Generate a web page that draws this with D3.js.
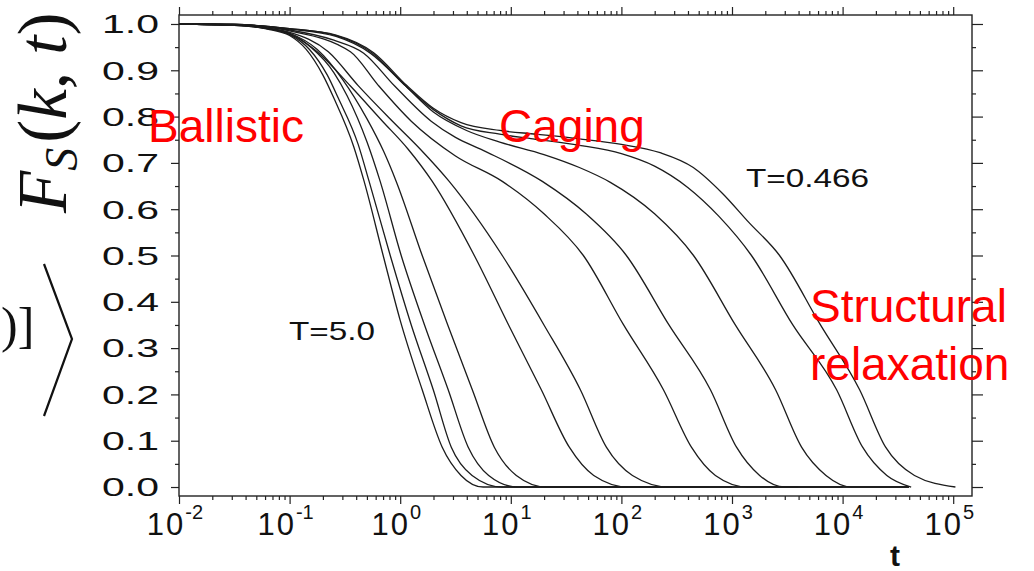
<!DOCTYPE html>
<html>
<head>
<meta charset="utf-8">
<script src="https://cdn.jsdelivr.net/npm/d3@7/dist/d3.min.js"></script>
<style>
  body { margin: 0; background: #fff; }
  svg { display: block; font-family: "Liberation Sans", Arial, sans-serif; }
</style>
</head>
<body>
<div id="chart"></div>
<script>
// each curve: [log10 t, Fs(k,t)], fastest (T=5.0) first
const curve1 = [[-2,1],[-1.5,0.997],[-1.2,0.989],[-1.0,0.975],[-0.85,0.945],[-0.7,0.89],[-0.6,0.84],[-0.42,0.735],[-0.326,0.66],[-0.154,0.5],[0.0,0.36],[0.199,0.21],[0.38,0.086],[0.55,0.025],[0.75,0],[2.6,0]];
const curve2 = [[-2,1],[-1.5,0.997],[-1.2,0.99],[-1.0,0.977],[-0.82,0.945],[-0.66,0.89],[-0.56,0.84],[-0.38,0.74],[-0.281,0.66],[-0.09,0.5],[0.1,0.35],[0.299,0.21],[0.462,0.086],[0.65,0.025],[0.92,0],[2.6,0]];
const curve3 = [[-2,1],[-1.5,0.998],[-1.2,0.99],[-1.0,0.978],[-0.8,0.948],[-0.6,0.895],[-0.48,0.845],[-0.3,0.745],[-0.181,0.66],[0.009,0.5],[0.22,0.35],[0.434,0.21],[0.615,0.086],[0.8,0.025],[1.06,0],[2.8,0]];
const curve4 = [[-2,1],[-1.5,0.998],[-1.2,0.991],[-1.0,0.98],[-0.75,0.945],[-0.52,0.88],[-0.3,0.795],[-0.15,0.725],[-0.036,0.66],[0.199,0.5],[0.43,0.35],[0.652,0.21],[0.851,0.086],[1.05,0.025],[1.32,0],[3.0,0]];
const curve5 = [[-2,1],[-1.5,0.998],[-1.2,0.99],[-1.0,0.98],[-0.75,0.94],[-0.45,0.866],[-0.16,0.79],[0.07,0.73],[0.29,0.66],[0.67,0.5],[0.98,0.35],[1.276,0.21],[1.529,0.086],[1.75,0.025],[2.06,0],[3.6,0]];
const curve6 = [[-2,1],[-1.5,0.998],[-1.2,0.991],[-1.0,0.982],[-0.65,0.94],[-0.38,0.867],[-0.07,0.79],[0.18,0.73],[0.443,0.66],[0.923,0.5],[1.3,0.35],[1.629,0.21],[1.864,0.086],[2.1,0.025],[2.43,0],[4.0,0]];
const curve7 = [[-2,1],[-1.5,0.999],[-1.2,0.993],[-1.0,0.985],[-0.45,0.94],[-0.2,0.868],[0.1,0.79],[0.5,0.715],[0.923,0.66],[1.3,0.59],[1.656,0.5],[2.02,0.35],[2.38,0.21],[2.633,0.086],[2.85,0.025],[3.14,0],[4.6,0]];
const curve8 = [[-2,1],[-1.5,0.999],[-1.0,0.987],[-0.6,0.965],[-0.33,0.937],[-0.05,0.866],[0.28,0.79],[0.5,0.755],[0.75,0.727],[1.285,0.66],[1.68,0.59],[2.045,0.5],[2.43,0.35],[2.805,0.21],[3.041,0.086],[3.25,0.025],[3.475,0],[4.6,0]];
const curve9 = [[-2,1],[-1.5,0.999],[-1.0,0.989],[-0.58,0.973],[-0.27,0.937],[0.05,0.866],[0.3,0.81],[0.6,0.77],[0.9,0.745],[1.3,0.718],[1.62,0.69],[1.9,0.658],[2.3,0.59],[2.652,0.5],[3.03,0.35],[3.394,0.21],[3.629,0.086],[3.85,0.025],[4.08,0],[4.6,0]];
const curve10 = [[-2,1],[-1.5,0.999],[-1.0,0.99],[-0.58,0.975],[-0.25,0.937],[0.05,0.866],[0.3,0.815],[0.55,0.78],[0.9,0.762],[1.2,0.752],[1.62,0.738],[2.0,0.72],[2.3,0.693],[2.6,0.647],[2.88,0.585],[3.176,0.5],[3.55,0.35],[3.946,0.21],[4.181,0.086],[4.4,0.025],[4.62,0]];
const curve11 = [[-2,1],[-1.5,0.999],[-1.0,0.99],[-0.58,0.976],[-0.24,0.938],[0.06,0.867],[0.3,0.818],[0.55,0.787],[0.9,0.77],[1.23,0.762],[1.62,0.752],[2.0,0.74],[2.35,0.722],[2.65,0.69],[2.91,0.635],[3.15,0.572],[3.43,0.5],[3.8,0.35],[4.154,0.21],[4.389,0.086],[4.65,0.025],[5.02,0]];

const curves = [curve1, curve2, curve3, curve4, curve5, curve6, curve7, curve8, curve9, curve10, curve11];

const yTicks = [0, 0.1, 0.2, 0.3, 0.4, 0.5, 0.6, 0.7, 0.8, 0.9, 1.0];
const yTickLabels = ["0.0", "0.1", "0.2", "0.3", "0.4", "0.5", "0.6", "0.7", "0.8", "0.9", "1.0"];
const xExponents = [-2, -1, 0, 1, 2, 3, 4, 5];
const xExpLabels = ["-2", "-1", "0", "1", "2", "3", "4", "5"];

const tempLabels = ["T=5.0", "T=0.466"];
const regimeLabels = ["Ballistic", "Caging", "Structural", "relaxation"];

const W = 1034, H = 571;
const LEFT = 179, RIGHT = 972, TOP = 15, BOTTOM = 496;
const SERIF = "'Liberation Serif', 'DejaVu Serif', serif";

const svg = d3.select("#chart").append("svg")
  .attr("width", W)
  .attr("height", H);

const x = d3.scaleLog().domain([1e-2, Math.pow(10, 5.17)]).range([LEFT, RIGHT]);
const y = d3.scaleLinear().domain([-0.0194, 1.0194]).range([BOTTOM, TOP]);

// frame
svg.append("rect")
  .attr("x", LEFT).attr("y", TOP)
  .attr("width", RIGHT - LEFT).attr("height", BOTTOM - TOP)
  .attr("fill", "none").attr("stroke", "#222").attr("stroke-width", 1.4);

const majorX = xExponents.map(e => Math.pow(10, e));
const minorX = [];
xExponents.forEach(e => {
  for (let k = 2; k <= 9; k++) {
    const v = k * Math.pow(10, e);
    if (v < x.domain()[1]) minorX.push(v);
  }
});
const minorY = yTicks.slice(0, -1).map(v => v + 0.05);

const drawAxis = (axis, transform) => {
  const g = svg.append("g").attr("transform", transform).call(axis);
  g.select(".domain").remove();
  g.selectAll("line").attr("stroke", "#222").attr("stroke-width", 1.2);
  g.selectAll("text").remove();
  return g;
};

drawAxis(d3.axisBottom(x).tickValues(majorX).tickSize(8), `translate(0,${BOTTOM})`);
drawAxis(d3.axisBottom(x).tickValues(minorX).tickSize(4), `translate(0,${BOTTOM})`);
drawAxis(d3.axisTop(x).tickValues(majorX).tickSize(8), `translate(0,${TOP})`);
drawAxis(d3.axisTop(x).tickValues(minorX).tickSize(4), `translate(0,${TOP})`);
drawAxis(d3.axisLeft(y).tickValues(yTicks).tickSize(8), `translate(${LEFT},0)`);
drawAxis(d3.axisLeft(y).tickValues(minorY).tickSize(4), `translate(${LEFT},0)`);
drawAxis(d3.axisRight(y).tickValues(yTicks).tickSize(11), `translate(${RIGHT},0)`);
drawAxis(d3.axisRight(y).tickValues(minorY).tickSize(4), `translate(${RIGHT},0)`);

// y tick labels (scan is stretched sideways, so widen the glyphs)
svg.append("g").selectAll("text")
  .data(yTicks)
  .join("text")
    .attr("x", 102)
    .attr("y", d => y(d))
    .attr("dy", "0.36em")
    .attr("font-size", 26)
    .attr("textLength", 57)
    .attr("lengthAdjust", "spacingAndGlyphs")
    .attr("fill", "#111")
    .text((d, i) => yTickLabels[i]);

// x tick labels 10^n
const xl = svg.append("g").selectAll("text")
  .data(majorX)
  .join("text")
    .attr("x", d => x(d) - 4)
    .attr("y", 535)
    .attr("text-anchor", "middle")
    .attr("fill", "#111")
    .attr("font-size", 31);
xl.append("tspan").attr("letter-spacing", 2).text("10");
xl.append("tspan")
  .attr("dy", -16)
  .attr("font-size", 20)
  .text((d, i) => xExpLabels[i]);

svg.append("text")
  .attr("x", 895).attr("y", 566)
  .attr("text-anchor", "middle")
  .attr("font-size", 30)
  .attr("font-weight", "bold")
  .attr("fill", "#111")
  .text("t");

// curves
const line = d3.line()
  .x(d => x(Math.pow(10, d[0])))
  .y(d => y(d[1]))
  .curve(d3.curveMonotoneX);

svg.append("g").selectAll("path")
  .data(curves)
  .join("path")
    .attr("d", line)
    .attr("fill", "none")
    .attr("stroke", "#1c1c1c")
    .attr("stroke-width", 1.3);

// temperature labels
svg.append("text")
  .attr("x", 289).attr("y", 340)
  .attr("font-size", 25)
  .attr("textLength", 86).attr("lengthAdjust", "spacingAndGlyphs")
  .attr("fill", "#111")
  .text(tempLabels[0]);
svg.append("text")
  .attr("x", 746).attr("y", 187)
  .attr("font-size", 25)
  .attr("textLength", 123).attr("lengthAdjust", "spacingAndGlyphs")
  .attr("fill", "#111")
  .text(tempLabels[1]);

// regime annotations in red
const red = "#ff0000";
svg.append("text").attr("x", 148).attr("y", 142).attr("font-size", 46).attr("fill", red).text(regimeLabels[0]);
svg.append("text").attr("x", 499).attr("y", 142).attr("font-size", 46).attr("fill", red).text(regimeLabels[1]);
svg.append("text").attr("x", 810).attr("y", 322).attr("font-size", 46).attr("fill", red).text(regimeLabels[2]);
svg.append("text").attr("x", 810).attr("y", 380).attr("font-size", 46).attr("fill", red).text(regimeLabels[3]);

// y-axis label Fs(k,t), rotated math text
const ylab = svg.append("text")
  .attr("transform", "translate(66,213) rotate(-90)")
  .style("font-family", SERIF)
  .attr("font-size", 69)
  .attr("fill", "#111");
ylab.append("tspan").attr("font-style", "italic").text("F");
ylab.append("tspan").attr("font-style", "italic").attr("font-size", 46).attr("dy", 11).text("S");
ylab.append("tspan").attr("dy", -11).attr("dx", 5).text("(");
ylab.append("tspan").attr("font-style", "italic").text("k");
ylab.append("tspan").text(", ");
ylab.append("tspan").attr("font-style", "italic").text("t");
ylab.append("tspan").text(")");

// cropped bits of the surrounding slide formula
svg.append("text")
  .attr("x", 1).attr("y", 342)
  .style("font-family", SERIF)
  .attr("font-size", 50)
  .attr("fill", "#111")
  .text(")]");
svg.append("path")
  .attr("d", "M44,264 L72,339 L44,416")
  .attr("fill", "none")
  .attr("stroke", "#111")
  .attr("stroke-width", 2.2);
</script>
</body>
</html>
